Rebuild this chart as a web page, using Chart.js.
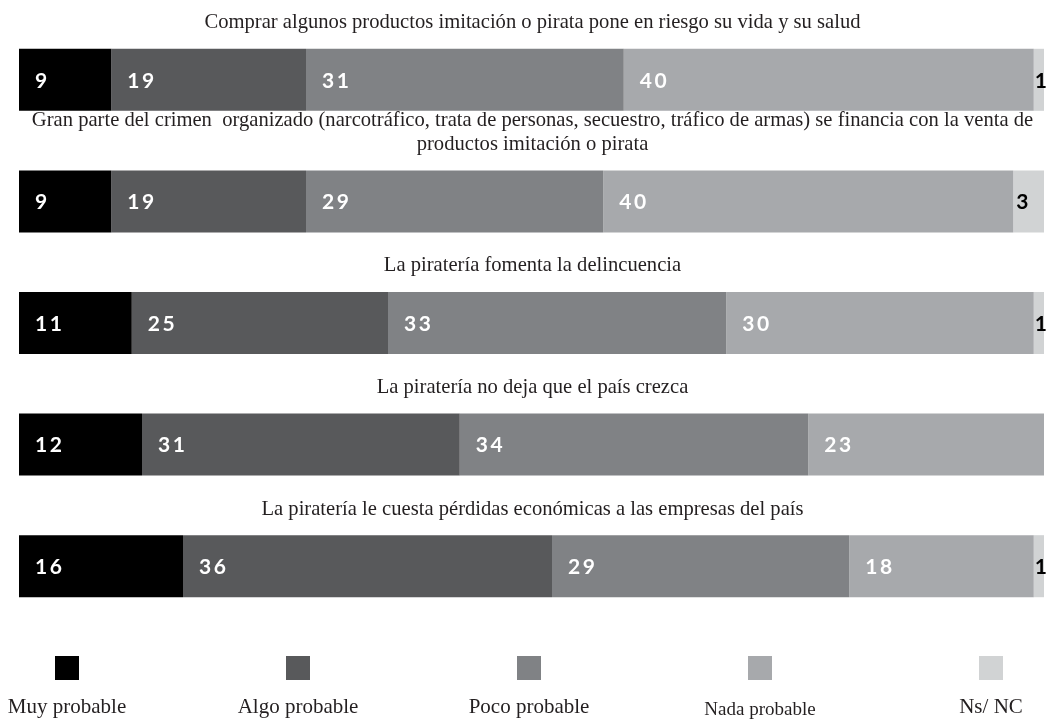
<!DOCTYPE html>
<html lang="es">
<head>
<meta charset="utf-8">
<title>Piratería</title>
<script src="https://cdn.jsdelivr.net/npm/chart.js@4"></script>
<style>
  html, body { margin: 0; padding: 0; background: #fff; }
  #wrap { width: 1054px; height: 721px; position: relative; }
</style>
</head>
<body>
<div id="wrap"><canvas id="bars"></canvas></div>
<script>
// statements (one per bar), multi-line where the text wraps
var statements = [
    'Comprar algunos productos imitación o pirata pone en riesgo su vida y su salud',
    ['Gran parte del crimen  organizado (narcotráfico, trata de personas, secuestro, tráfico de armas) se financia con la venta de',
     'productos imitación o pirata'],
    'La piratería fomenta la delincuencia',
    'La piratería no deja que el país crezca',
    'La piratería le cuesta pérdidas económicas a las empresas del país'
];

var muyProbable  = [9, 9, 11, 12, 16];
var algoProbable = [19, 19, 25, 31, 36];
var pocoProbable = [31, 29, 33, 34, 29];
var nadaProbable = [40, 40, 30, 23, 18];
var nsNc         = [1, 3, 1, 0, 1];

var seriesNames  = ['Muy probable', 'Algo probable', 'Poco probable', 'Nada probable', 'Ns/ NC'];
var seriesColors = ['#000000', '#58595b', '#808285', '#a7a9ac', '#d1d3d4'];
var labelColors  = ['#ffffff', '#ffffff', '#ffffff', '#ffffff', '#000000'];

var serif = "'Liberation Serif', 'DejaVu Serif', serif";

// question text above each bar
var statementTitles = {
    id: 'statementTitles',
    afterDraw: function(chart) {
        var ctx = chart.ctx;
        var area = chart.chartArea;
        var meta = chart.getDatasetMeta(0);
        ctx.save();
        ctx.fillStyle = '#231f20';
        ctx.font = '20.6px ' + serif;
        ctx.textAlign = 'center';
        ctx.textBaseline = 'middle';
        var cx = (area.left + area.right) / 2 + 1;
        meta.data.forEach(function(bar, i) {
            var p = bar.getProps(['y', 'height'], true);
            var top = p.y - p.height / 2;
            var lines = [].concat(chart.data.labels[i]);
            for (var k = 0; k < lines.length; k++) {
                var y = top - 26 - (lines.length - 1 - k) * 24;
                ctx.fillText(lines[k], cx, y);
            }
        });
        ctx.restore();
    }
};

// numbers written inside the segments, near their left edge
var segmentValues = {
    id: 'segmentValues',
    afterDatasetsDraw: function(chart) {
        var ctx = chart.ctx;
        ctx.save();
        ctx.font = "bold 21px Lato, 'DejaVu Sans', sans-serif";
        ctx.letterSpacing = '2.5px';
        ctx.textAlign = 'left';
        ctx.textBaseline = 'middle';
        chart.data.datasets.forEach(function(ds, d) {
            chart.getDatasetMeta(d).data.forEach(function(bar, i) {
                var v = ds.data[i];
                if (!v) return;
                var p = bar.getProps(['x', 'y', 'base'], true);
                var w = p.x - p.base;
                var off = w >= 40 ? 16 : w * 0.1;
                ctx.fillStyle = labelColors[d];
                ctx.fillText(String(v), p.base + off, p.y + 1);
            });
        });
        ctx.restore();
    }
};

// legend: square above each label, spread across the bottom
var bottomLegend = {
    id: 'bottomLegend',
    afterDraw: function(chart) {
        var ctx = chart.ctx;
        var n = seriesNames.length;
        var first = 67, last = 991;
        ctx.save();
        ctx.textAlign = 'center';
        ctx.textBaseline = 'middle';
        for (var i = 0; i < n; i++) {
            var cx = first + (last - first) * i / (n - 1);
            ctx.fillStyle = seriesColors[i];
            ctx.fillRect(Math.round(cx - 12), 656, 24, 24);
            ctx.fillStyle = '#231f20';
            ctx.font = (i === 3 ? '19px ' : '21px ') + serif;
            ctx.fillText(seriesNames[i], cx, i === 3 ? 710 : 707);
        }
        ctx.restore();
    }
};

var seriesData = [muyProbable, algoProbable, pocoProbable, nadaProbable, nsNc];

var ctx = document.getElementById('bars').getContext('2d');
var chart = new Chart(ctx, {
    type: 'bar',
    data: {
        labels: statements,
        datasets: seriesData.map(function(vals, d) {
            return {
                label: seriesNames[d],
                data: vals,
                backgroundColor: seriesColors[d],
                borderWidth: 0,
                barPercentage: 1,
                categoryPercentage: 0.51
            };
        })
    },
    options: {
        indexAxis: 'y',
        responsive: true,
        maintainAspectRatio: false,
        animation: false,
        layout: { padding: { left: 19, right: 10, top: 19, bottom: 94 } },
        scales: {
            x: { stacked: true, min: 0, max: 100, display: false },
            y: { stacked: true, display: false }
        },
        plugins: {
            legend: { display: false },
            tooltip: { enabled: false }
        }
    },
    plugins: [statementTitles, segmentValues, bottomLegend]
});
</script>
</body>
</html>
